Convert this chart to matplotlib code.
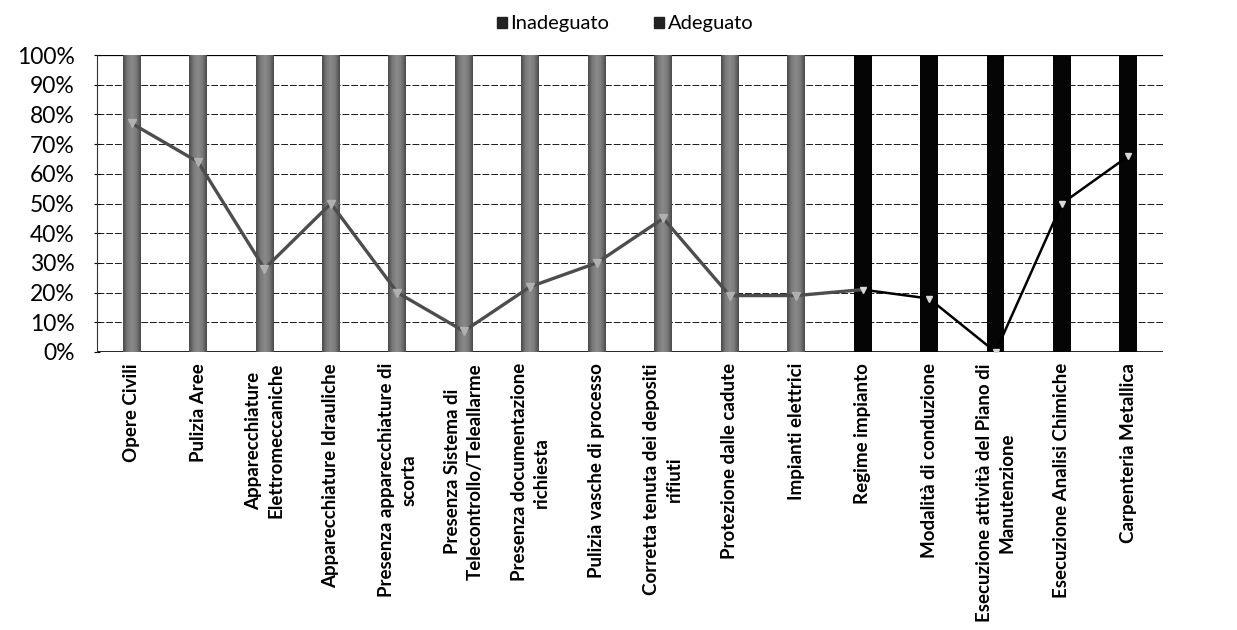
import matplotlib
matplotlib.use("Agg")
import matplotlib.pyplot as plt
import numpy as np
from matplotlib.colors import LinearSegmentedColormap
from matplotlib.patches import Patch

categories = [
    "Opere Civili",
    "Pulizia Aree",
    "Apparecchiature\nElettromeccaniche",
    "Apparecchiature Idrauliche",
    "Presenza apparecchiature di\nscorta",
    "Presenza Sistema di\nTelecontrollo/Teleallarme",
    "Presenza documentazione\nrichiesta",
    "Pulizia vasche di processo",
    "Corretta tenuta dei depositi\nrifiuti",
    "Protezione dalle cadute",
    "Impianti elettrici",
    "Regime impianto",
    "Modalità di conduzione",
    "Esecuzione attività del Piano di\nManutenzione",
    "Esecuzione Analisi Chimiche",
    "Carpenteria Metallica",
]
inadeguato = [77, 64, 28, 50, 20, 7, 22, 30, 45, 19, 19, 21, 18, 0, 50, 66]
adeguato = [100 - v for v in inadeguato]
# groups: first 11 in gray, last 5 in black
group = ["gray"] * 11 + ["black"] * 5
yticks = [0, 10, 20, 30, 40, 50, 60, 70, 80, 90, 100]

plt.rcParams["font.family"] = ["Lato", "DejaVu Sans"]

fig = plt.figure(figsize=(12.37, 6.30), dpi=100)
ax = fig.add_axes([97 / 1237, 1 - 352 / 630, (1163 - 97) / 1237, (352 - 55) / 630])

x = np.arange(len(categories))
width = 0.27
colors = ["#6a6a6a" if g == "gray" else "#050505" for g in group]

bars_in = ax.bar(x, inadeguato, width, color=colors, zorder=3, label="Inadeguato")
bars_ad = ax.bar(x, adeguato, width, bottom=inadeguato, color=colors, zorder=3, label="Adeguato")

# cylinder shading on the gray columns
shade = LinearSegmentedColormap.from_list("cyl", ["#4a4a4a", "#7a7a7a", "#8a8a8a", "#7a7a7a", "#4a4a4a"])
grad = np.linspace(0, 1, 64).reshape(1, -1)
for bars in (bars_in, bars_ad):
    for p, g in zip(bars.patches, group):
        if g != "gray" or p.get_height() <= 0:
            continue
        x0, y0 = p.get_x(), p.get_y()
        im = ax.imshow(grad, cmap=shade, aspect="auto", zorder=3.5,
                       extent=[x0, x0 + p.get_width(), y0, y0 + p.get_height()])
        im.set_clip_path(p)

# trend line of the "Inadeguato" share
ax.plot(x[:12], inadeguato[:12], color="#4d4d4d", lw=2.4, zorder=5)
ax.plot(x[11:], inadeguato[11:], color="#000000", lw=1.8, zorder=5)
ax.plot(x[:11], inadeguato[:11], ls="none", marker="v", ms=6, color="#b0b0b0", zorder=6)
ax.plot(x[11:], inadeguato[11:], ls="none", marker="v", ms=4, color="#d8d8d8", zorder=6)

ax.set_xlim(-0.52, len(categories) - 0.48)
ax.set_ylim(0, 100)
ax.set_yticks(yticks)
ax.set_yticklabels([f"{t}%" for t in yticks], fontsize=16.5)
ax.yaxis.grid(True, color="#1a1a1a", lw=0.7, ls=(0, (7, 2)), zorder=1)
ax.axhline(100, color="#000", lw=1.6, zorder=2)
ax.axhline(0, color="#000", lw=1.2, zorder=2)

ax.set_xticks(x)
ax.set_xticklabels(categories, rotation=90, fontsize=13.5, fontweight="bold",
                   va="top", ha="center", multialignment="center", linespacing=1.4)
ax.tick_params(axis="x", length=0, pad=8)
ax.tick_params(axis="y", length=4, direction="inout", pad=14)

for side in ("top", "right", "bottom"):
    ax.spines[side].set_visible(False)
ax.spines["left"].set_linestyle((0, (2, 1)))
ax.spines["left"].set_color("#333")

handles = [Patch(color="#222"), Patch(color="#222")]
fig.legend(handles, ["Inadeguato", "Adeguato"], loc="center", bbox_to_anchor=(625 / 1237, 1 - 24 / 630),
           ncol=2, frameon=False, fontsize=14.5, handlelength=0.5, handleheight=0.5,
           handletextpad=0.2, columnspacing=2.2)

fig.savefig("out.png", dpi=100, facecolor="white")
